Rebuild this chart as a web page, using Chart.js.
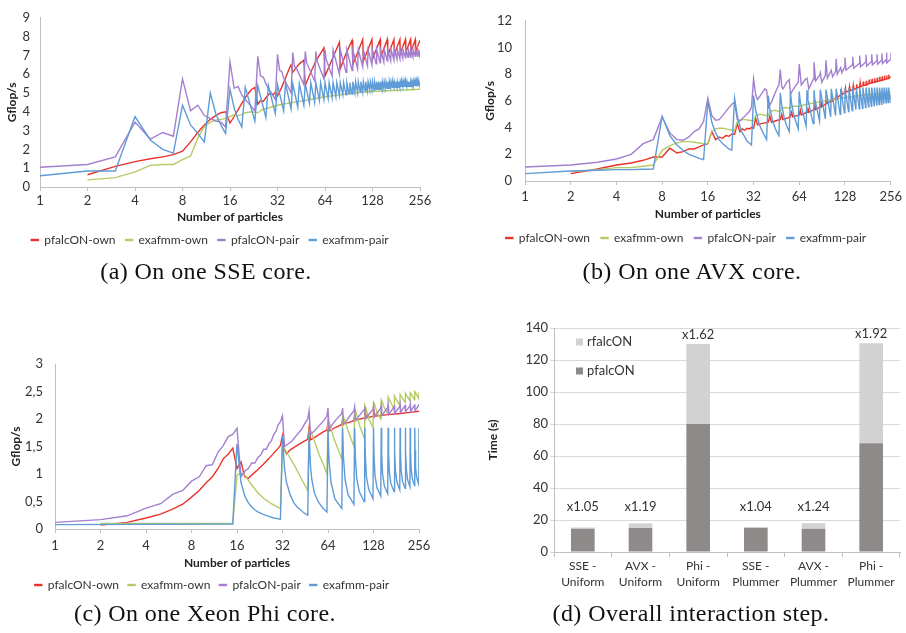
<!DOCTYPE html>
<html>
<head>
<meta charset="utf-8">
<script src="https://cdn.jsdelivr.net/npm/chart.js@4.4.1/dist/chart.umd.min.js"></script>
<style>
  body { margin: 0; background: #fff; }
  #page { position: relative; width: 906px; height: 633px; overflow: hidden; background: #fff; }
  .box { position: absolute; }
  .cap { position: absolute; font-family: 'Liberation Serif', serif; font-size: 24px; letter-spacing: 0.4px; color: #111;
         transform: translate(-50%, -50%); white-space: nowrap; }
</style>
</head>
<body>
<div id="page">
  <div class="box" style="left:0;top:0"><canvas id="sse" width="453" height="262"></canvas></div>
  <div class="box" style="left:453px;top:0"><canvas id="avx" width="453" height="262"></canvas></div>
  <div class="box" style="left:0;top:310px"><canvas id="phi" width="453" height="296"></canvas></div>
  <div class="box" style="left:453px;top:310px"><canvas id="total" width="453" height="290"></canvas></div>
  <div class="cap" style="left:206px;top:271px">(a) On one SSE core.</div>
  <div class="cap" style="left:692px;top:271px">(b) On one AVX core.</div>
  <div class="cap" style="left:205px;top:613px">(c) On one Xeon Phi core.</div>
  <div class="cap" style="left:691px;top:613px">(d) Overall interaction step.</div>
</div>
<script>
// axes
const particleTicks = [1, 2, 4, 8, 16, 32, 64, 128, 256];
const sseYTicks = ['0', '1', '2', '3', '4', '5', '6', '7', '8', '9'];
const avxYTicks = ['0', '2', '4', '6', '8', '10', '12'];
const phiYTicks = ['0', '0,5', '1', '1,5', '2', '2,5', '3'];

const seriesNames = ['pfalcON-own', 'exafmm-own', 'pfalcON-pair', 'exafmm-pair'];
const lineColors = ['#e8332a', '#b5cc66', '#a47fd0', '#5f9bd6'];

// (a) one SSE core: [particles, Gflop/s]
const ssePfalconOwn = [[2,0.65],[3,1.1],[4,1.35],[5,1.5],[6,1.6],[7,1.72],[8,1.9],[9,2.4],[10,2.9],[11,3.3],[12,3.6],[13,3.8],[14,3.95],[15,4.0],[16,3.4],[17,3.75],[18,4.1],[19,4.45],[20,4.75],[21,5.0],[22,5.2],[23,5.3],[24,4.4],[25,4.6],[26,4.55],[27,4.75],[28,4.9],[29,5.0],[30,4.9],[31,5.05],[32,4.85],[34,5.3],[36,5.8],[38,6.3],[39,6.5],[40,6.1],[42,6.35],[44,6.55],[47,6.75],[48,5.4],[52,6.1],[56,6.7],[63,7.4],[64,5.9],[72,6.9],[79,7.7],[80,6.3],[88,7.2],[95,7.8],[96,6.5],[111,7.85],[112,6.7],[127,7.85],[128,6.8],[143,7.85],[144,6.9],[159,7.85],[160,7.0],[175,7.85],[176,7.05],[191,7.85],[192,7.1],[207,7.85],[208,7.15],[223,7.85],[224,7.2],[239,7.85],[240,7.2],[256,7.8]];
const sseExafmmOwn = [[2,0.38],[3,0.5],[4,0.8],[5,1.15],[6,1.2],[7,1.2],[8,1.45],[9,1.65],[10,2.6],[11,3.2],[12,3.45],[13,3.55],[14,3.6],[15,3.65],[16,3.75],[17,3.85],[18,3.8],[19,3.85],[20,3.95],[22,4.0],[24,3.95],[26,4.15],[28,4.2],[32,4.35],[40,4.5],[48,4.6],[64,4.8],[80,4.9],[96,5.0],[128,5.08],[160,5.12],[192,5.15],[256,5.2]];
const ssePfalconPair = [[1,1.05],[2,1.2],[3,1.6],[4,3.45],[5,2.55],[6,2.9],[7,2.7],[8,5.75],[9,4.05],[10,4.35],[11,3.8],[12,3.65],[13,3.5],[14,3.45],[15,3.2],[16,6.65],[17,5.25],[18,5.35],[19,4.9],[20,4.65],[21,4.45],[22,4.25],[23,4.05],[24,6.95],[25,5.9],[26,5.85],[27,5.5],[28,5.25],[29,5.05],[30,4.85],[31,4.65],[32,7.05],[33,6.2],[34,6.15],[35,5.8],[37,5.4],[39,5.0],[40,7.15],[41,6.4],[42,6.35],[47,5.45],[48,7.2],[49,6.6],[55,5.65],[56,7.2],[57,6.7],[63,5.75],[64,7.3],[65,6.8],[71,5.9],[72,7.3],[79,6.0],[80,7.3],[87,6.1],[88,7.3],[95,6.2],[96,7.3],[103,6.3],[104,7.3],[111,6.4],[112,7.3],[119,6.45],[120,7.3],[127,6.5],[128,7.3],[135,6.55],[136,7.3],[143,6.6],[144,7.3],[151,6.65],[152,7.3],[159,6.7],[160,7.3],[167,6.72],[168,7.3],[175,6.75],[176,7.3],[183,6.8],[184,7.3],[191,6.82],[192,7.3],[199,6.85],[200,7.3],[207,6.87],[208,7.3],[215,6.9],[216,7.3],[223,6.9],[224,7.3],[231,6.92],[232,7.3],[239,6.95],[240,7.3],[247,6.95],[248,7.3],[255,6.95],[256,7.3]];
const sseExafmmPair = [[1,0.6],[2,0.85],[3,0.85],[4,3.75],[5,2.5],[6,2.0],[7,1.8],[8,4.35],[9,3.3],[10,2.85],[11,2.4],[12,5.0],[13,3.9],[14,3.3],[15,2.85],[16,5.2],[17,4.2],[18,3.6],[19,3.2],[20,5.3],[23,3.5],[24,5.4],[27,3.7],[28,5.4],[31,3.9],[32,5.45],[35,4.05],[36,5.5],[39,4.15],[40,5.5],[43,4.25],[44,5.5],[47,4.35],[48,5.5],[51,4.45],[52,5.55],[55,4.5],[56,5.55],[59,4.6],[60,5.55],[63,4.65],[64,5.55],[67,4.7],[68,5.55],[71,4.75],[72,5.55],[75,4.8],[76,5.55],[79,4.85],[80,5.55],[83,4.9],[84,5.55],[87,4.9],[88,5.55],[91,4.95],[92,5.55],[95,4.95],[96,5.6],[99,5.0],[100,5.6],[103,5.0],[104,5.6],[107,5.05],[108,5.6],[111,5.05],[112,5.6],[115,5.1],[116,5.6],[119,5.1],[120,5.6],[123,5.15],[124,5.6],[127,5.15],[128,5.6],[131,5.15],[132,5.6],[135,5.2],[136,5.6],[139,5.2],[140,5.6],[143,5.2],[144,5.6],[147,5.2],[148,5.6],[151,5.25],[152,5.6],[155,5.25],[156,5.6],[159,5.25],[160,5.6],[163,5.25],[164,5.6],[167,5.3],[168,5.6],[171,5.3],[172,5.6],[175,5.3],[176,5.6],[179,5.3],[180,5.6],[183,5.3],[184,5.6],[187,5.3],[188,5.6],[191,5.3],[192,5.6],[195,5.35],[196,5.6],[199,5.35],[200,5.6],[203,5.35],[204,5.6],[207,5.35],[208,5.6],[211,5.35],[212,5.6],[215,5.35],[216,5.6],[219,5.35],[220,5.6],[223,5.35],[224,5.6],[227,5.4],[228,5.6],[231,5.4],[232,5.6],[235,5.4],[236,5.6],[239,5.4],[240,5.6],[243,5.4],[244,5.6],[247,5.4],[248,5.6],[251,5.4],[252,5.6],[255,5.4],[256,5.6]];

// (b) one AVX core
const avxPfalconOwn = [[2,0.55],[3,0.9],[4,1.2],[5,1.35],[6,1.55],[7,1.8],[8,1.8],[9,2.45],[10,2.1],[11,2.2],[12,2.4],[13,2.4],[14,2.55],[15,2.7],[16,2.8],[17,3.7],[18,3.1],[19,3.3],[20,3.2],[21,3.4],[22,3.35],[23,3.5],[24,3.5],[25,4.3],[26,3.7],[27,3.9],[28,3.8],[29,3.95],[30,3.9],[31,4.0],[32,3.95],[33,4.7],[34,4.2],[36,4.3],[38,4.35],[40,4.4],[41,4.85],[42,4.4],[46,4.55],[48,4.6],[49,5.0],[50,4.6],[56,4.8],[57,5.15],[58,4.8],[64,4.95],[65,5.3],[66,4.95],[72,5.15],[73,5.5],[74,5.15],[80,5.35],[81,5.7],[82,5.35],[88,5.55],[89,5.9],[90,5.55],[96,5.8],[97,6.1],[98,5.8],[104,6.0],[105,6.3],[106,6.0],[112,6.25],[113,6.55],[114,6.25],[120,6.45],[121,6.75],[122,6.45],[128,6.65],[129,6.95],[130,6.65],[136,6.75],[137,7.05],[138,6.75],[144,6.85],[145,7.15],[146,6.85],[152,6.95],[153,7.25],[154,6.95],[160,7.05],[161,7.35],[162,7.05],[168,7.15],[169,7.45],[170,7.15],[176,7.2],[177,7.5],[178,7.2],[184,7.3],[185,7.6],[186,7.3],[192,7.35],[193,7.65],[194,7.35],[200,7.4],[201,7.7],[202,7.4],[208,7.45],[209,7.75],[210,7.45],[216,7.5],[217,7.8],[218,7.5],[224,7.55],[225,7.85],[226,7.55],[232,7.6],[233,7.9],[234,7.6],[240,7.65],[241,7.9],[242,7.65],[248,7.7],[249,7.95],[250,7.7],[256,7.8]];
const avxExafmmOwn = [[2,0.7],[3,0.85],[4,1.0],[5,1.0],[6,1.1],[7,1.2],[8,2.3],[9,2.65],[10,2.85],[11,2.95],[12,2.95],[13,2.9],[14,2.85],[15,2.8],[16,2.8],[17,3.7],[18,3.9],[19,3.95],[20,3.95],[21,3.9],[22,3.85],[23,3.8],[24,3.8],[25,4.45],[26,4.55],[27,4.6],[28,4.6],[30,4.55],[32,4.5],[33,4.9],[35,5.0],[37,4.95],[40,4.85],[41,5.2],[44,5.3],[48,5.2],[49,5.45],[52,5.5],[56,5.45],[57,5.6],[64,5.6],[72,5.75],[80,5.85],[88,5.95],[96,6.0],[112,6.15],[128,6.25],[160,6.4],[192,6.5],[224,6.6],[256,6.65]];
const avxPfalconPair = [[1,1.05],[2,1.2],[3,1.4],[4,1.65],[5,2.0],[6,2.8],[7,3.1],[8,4.8],[9,3.6],[10,3.1],[11,3.05],[12,3.3],[13,3.7],[14,3.9],[15,4.45],[16,6.2],[17,4.9],[18,4.55],[19,4.6],[20,4.9],[21,5.2],[22,5.5],[23,5.75],[24,5.9],[25,4.6],[26,4.5],[28,4.85],[30,5.2],[31,5.5],[32,7.65],[33,6.5],[34,6.1],[36,6.5],[38,6.9],[39,6.8],[40,5.5],[42,5.9],[44,6.5],[46,7.0],[47,7.2],[48,8.35],[49,7.1],[50,6.9],[53,7.4],[55,7.6],[56,6.5],[58,6.8],[62,7.3],[63,7.4],[64,8.75],[66,7.2],[70,7.6],[72,7.7],[74,6.9],[79,7.6],[80,8.9],[82,7.5],[87,7.9],[88,8.1],[90,7.4],[95,7.9],[96,9.05],[98,7.7],[104,8.3],[106,7.8],[111,8.2],[112,9.15],[114,8.0],[120,8.5],[122,8.1],[127,8.5],[128,9.25],[130,8.3],[143,8.7],[144,9.3],[146,8.45],[159,8.8],[160,9.4],[162,8.55],[175,8.9],[176,9.45],[178,8.6],[191,8.95],[192,9.5],[194,8.7],[207,9.0],[208,9.5],[210,8.75],[223,9.05],[224,9.55],[226,8.8],[239,9.1],[240,9.6],[242,8.85],[255,9.1],[256,9.6]];
const avxExafmmPair = [[1,0.55],[2,0.75],[3,0.8],[4,0.85],[5,0.85],[6,0.88],[7,0.9],[8,4.85],[9,3.4],[10,2.7],[11,2.3],[12,2.0],[13,1.85],[14,1.7],[15,1.6],[16,5.95],[17,4.4],[18,3.6],[19,3.1],[20,2.8],[21,2.6],[22,2.4],[23,2.3],[24,6.2],[25,4.9],[26,4.1],[27,3.6],[28,3.3],[29,3.0],[30,2.85],[31,2.7],[32,6.4],[33,5.3],[35,4.2],[37,3.6],[39,3.1],[40,6.4],[41,5.4],[43,4.4],[45,3.8],[47,3.4],[48,6.6],[49,5.7],[51,4.7],[53,4.1],[55,3.7],[56,6.6],[57,5.8],[59,4.9],[63,3.9],[64,6.7],[65,5.9],[71,4.1],[72,6.8],[73,6.1],[79,4.3],[80,6.8],[81,6.15],[87,4.5],[88,6.85],[95,4.65],[96,6.85],[103,4.8],[104,6.9],[111,4.9],[112,6.9],[119,5.0],[120,6.9],[127,5.1],[128,6.95],[135,5.2],[136,6.95],[143,5.25],[144,6.95],[151,5.35],[152,6.95],[159,5.4],[160,7.0],[167,5.45],[168,7.0],[175,5.5],[176,7.0],[183,5.55],[184,7.0],[191,5.6],[192,7.0],[199,5.65],[200,7.0],[207,5.7],[208,7.0],[215,5.72],[216,7.0],[223,5.75],[224,7.0],[231,5.8],[232,7.0],[239,5.85],[240,7.0],[247,5.88],[248,7.0],[255,5.9],[256,6.5]];

// (c) one Xeon Phi core
const phiPfalconOwn = [[2,0.07],[3,0.12],[4,0.2],[5,0.27],[6,0.36],[7,0.45],[8,0.58],[9,0.7],[10,0.84],[11,0.95],[12,1.1],[13,1.28],[14,1.36],[15,1.47],[16,1.1],[17,1.22],[18,0.95],[19,0.92],[20,0.98],[22,1.08],[24,1.18],[26,1.28],[28,1.38],[30,1.47],[31,1.52],[32,1.7],[33,1.45],[34,1.37],[36,1.44],[40,1.52],[44,1.59],[47,1.63],[48,1.85],[49,1.62],[52,1.66],[56,1.72],[60,1.77],[63,1.8],[64,1.95],[65,1.78],[72,1.85],[79,1.9],[80,2.02],[81,1.91],[88,1.94],[95,1.97],[96,2.07],[97,1.98],[112,2.02],[113,2.1],[114,2.02],[128,2.05],[129,2.12],[130,2.05],[160,2.08],[192,2.1],[224,2.12],[256,2.14]];
const phiExafmmOwn = [[2,0.1],[15,0.1],[16,0.98],[17,1.02],[18,0.98],[20,0.8],[22,0.66],[24,0.56],[27,0.46],[31,0.37],[32,1.53],[34,1.4],[38,1.18],[42,0.95],[47,0.7],[48,1.8],[49,1.8],[52,1.6],[56,1.35],[60,1.15],[63,1.0],[64,1.97],[66,1.9],[70,1.65],[75,1.43],[79,1.27],[80,2.06],[82,2.0],[87,1.78],[95,1.5],[96,2.2],[98,2.13],[103,1.9],[111,1.66],[112,2.25],[114,2.2],[119,2.0],[127,1.85],[128,2.3],[130,2.27],[135,2.12],[143,2.0],[144,2.35],[146,2.32],[151,2.2],[159,2.1],[160,2.4],[163,2.35],[175,2.18],[176,2.42],[179,2.38],[191,2.25],[192,2.45],[195,2.42],[207,2.3],[208,2.47],[211,2.44],[223,2.33],[224,2.48],[227,2.46],[239,2.35],[240,2.5],[243,2.48],[255,2.37],[256,2.5]];
const phiPfalconPair = [[1,0.12],[2,0.17],[3,0.24],[4,0.38],[5,0.46],[6,0.63],[7,0.7],[8,0.87],[9,0.95],[10,1.15],[11,1.17],[12,1.4],[13,1.52],[14,1.68],[15,1.72],[16,1.83],[17,0.95],[18,1.05],[19,1.1],[20,1.2],[21,1.2],[22,1.3],[23,1.35],[24,1.45],[25,1.45],[26,1.55],[27,1.6],[28,1.72],[29,1.78],[30,1.9],[31,1.95],[32,2.06],[33,1.5],[35,1.55],[37,1.6],[39,1.68],[41,1.75],[43,1.82],[45,1.92],[47,2.0],[48,2.15],[49,1.72],[52,1.78],[56,1.88],[60,1.97],[63,2.05],[64,2.2],[65,1.82],[72,1.98],[79,2.1],[80,2.2],[81,1.9],[95,2.15],[96,2.22],[97,1.97],[111,2.17],[112,2.22],[113,2.0],[127,2.18],[128,2.23],[129,2.03],[143,2.2],[144,2.24],[145,2.06],[159,2.21],[160,2.25],[161,2.08],[175,2.22],[176,2.25],[177,2.1],[191,2.23],[192,2.26],[193,2.12],[207,2.24],[208,2.26],[209,2.13],[223,2.24],[224,2.27],[225,2.14],[239,2.25],[240,2.27],[241,2.15],[255,2.25],[256,2.27]];
const phiExafmmPair = [[1,0.08],[15,0.09],[16,1.55],[17,0.85],[18,0.6],[19,0.48],[20,0.4],[21,0.35],[22,0.31],[24,0.26],[26,0.23],[28,0.2],[31,0.18],[32,1.7],[33,1.1],[34,0.85],[36,0.62],[38,0.48],[40,0.4],[42,0.35],[44,0.3],[47,0.25],[48,1.75],[49,1.15],[50,0.9],[52,0.66],[55,0.5],[59,0.38],[63,0.31],[64,1.82],[65,1.25],[67,0.85],[71,0.55],[79,0.37],[80,1.83],[81,1.3],[83,0.9],[87,0.62],[95,0.45],[96,1.83],[97,1.32],[99,0.93],[103,0.68],[111,0.5],[112,1.84],[113,1.33],[115,0.95],[119,0.72],[127,0.55],[128,1.84],[129,1.34],[131,0.97],[135,0.75],[143,0.6],[144,1.84],[145,1.36],[147,1.0],[151,0.78],[159,0.64],[160,1.84],[161,1.38],[163,1.03],[167,0.82],[175,0.68],[176,1.84],[177,1.4],[179,1.05],[183,0.85],[191,0.71],[192,1.84],[193,1.4],[195,1.07],[199,0.87],[207,0.74],[208,1.84],[209,1.42],[211,1.09],[215,0.9],[223,0.77],[224,1.84],[225,1.42],[227,1.1],[231,0.92],[239,0.79],[240,1.84],[241,1.43],[243,1.12],[247,0.94],[255,0.81],[256,1.84]];

// (d) overall interaction step, time in seconds
const runLabels = [['SSE -', 'Uniform'], ['AVX -', 'Uniform'], ['Phi -', 'Uniform'],
                   ['SSE -', 'Plummer'], ['AVX -', 'Plummer'], ['Phi -', 'Plummer']];
const pfalconTime = [14.5, 15, 80, 15, 14.5, 68];
const rfalconTime = [15.3, 17.9, 130, 15.7, 18, 130.5];
const speedupLabels = ['x1.05', 'x1.19', 'x1.62', 'x1.04', 'x1.24', 'x1.92'];

Chart.defaults.font.family = 'Lato, "Open Sans", sans-serif';
Chart.defaults.color = '#333';

// grafico de linhas (a), (b), (c)
function lineChart(id, series, yMax, yStep, yLabels, lay) {
  new Chart(document.getElementById(id), {
    type: 'line',
    data: {
      datasets: series.map((pts, i) => ({
        label: seriesNames[i],
        data: pts.map(p => ({ x: p[0], y: p[1] })),
        borderColor: lineColors[i],
        backgroundColor: lineColors[i],
        borderWidth: 1.4,
        pointRadius: 0,
        tension: 0,
        order: 3 - i
      }))
    },
    options: {
      responsive: false,
      animation: false,
      layout: { padding: lay.pad },
      plugins: {
        tooltip: { enabled: false },
        legend: {
          position: 'bottom',
          labels: { boxWidth: 7, boxHeight: 1, padding: lay.legendPad, font: { size: 12 }, color: '#333',
                    sort: (a, b) => a.datasetIndex - b.datasetIndex }
        }
      },
      scales: {
        x: {
          type: 'logarithmic', min: 1, max: 256,
          afterBuildTicks: s => { s.ticks = particleTicks.map(v => ({ value: v })); },
          afterFit: s => { s.height = lay.xHeight; },
          ticks: { callback: v => String(v), autoSkip: false, maxRotation: 0, padding: lay.xTickPad, font: { size: 13 } },
          grid: { drawOnChartArea: false, drawTicks: true, tickLength: 4, color: '#c0c0c0' },
          border: { color: '#c0c0c0' },
          title: { display: true, text: 'Number of particles', font: { size: 12, weight: 'bold' }, padding: 0, color: '#222' }
        },
        y: {
          min: 0, max: yMax,
          afterFit: s => { s.width = lay.yWidth; },
          ticks: { stepSize: yStep, callback: (v, i) => yLabels[i], padding: lay.yTickPad, font: { size: 13 } },
          grid: { display: false, drawTicks: false },
          border: { display: true, color: '#c0c0c0' },
          title: { display: true, text: 'Gflop/s', font: { size: 12, weight: 'bold' }, padding: { top: lay.yTitlePad, bottom: 0 }, color: '#222' }
        }
      }
    }
  });
}

lineChart('sse', [ssePfalconOwn, sseExafmmOwn, ssePfalconPair, sseExafmmPair], 9, 1, sseYTicks,
  { pad: { left: 0, right: 33, top: 14, bottom: 6 }, yWidth: 40, yTickPad: 10, yTitlePad: 5,
    xHeight: 37, xTickPad: 2, legendPad: 10 });
lineChart('avx', [avxPfalconOwn, avxExafmmOwn, avxPfalconPair, avxExafmmPair], 12, 2, avxYTicks,
  { pad: { left: 26, right: 13, top: 16, bottom: 8 }, yWidth: 46, yTickPad: 13, yTitlePad: 4,
    xHeight: 40, xTickPad: 4, legendPad: 11 });
lineChart('phi', [phiPfalconOwn, phiExafmmOwn, phiPfalconPair, phiExafmmPair], 3, 0.5, phiYTicks,
  { pad: { left: 5, right: 34, top: 54, bottom: 5 }, yWidth: 50, yTickPad: 12, yTitlePad: 4,
    xHeight: 41, xTickPad: 5, legendPad: 9 });

// rotulos x1.xx e legenda dentro do grafico (d)
const totalExtras = {
  id: 'totalExtras',
  afterDatasetsDraw(chart) {
    const ctx = chart.ctx;
    const y = chart.scales.y;
    const top = chart.getDatasetMeta(1).data;
    ctx.save();
    ctx.font = '13px Lato';
    ctx.fillStyle = '#333';
    ctx.textAlign = 'center';
    ctx.textBaseline = 'middle';
    top.forEach((bar, i) => {
      const ty = Math.min(bar.y - 9, y.getPixelForValue(28));
      ctx.fillText(speedupLabels[i], bar.x, ty);
    });
    const a = chart.chartArea;
    const items = [['rfalcON', '#d2d2d2', 14], ['pfalcON', '#8e8a8a', 43]];
    ctx.textAlign = 'left';
    items.forEach(([txt, col, dy]) => {
      ctx.fillStyle = col;
      ctx.fillRect(a.left + 22, a.top + dy - 3.5, 7, 7);
      ctx.fillStyle = '#333';
      ctx.fillText(txt, a.left + 33, a.top + dy);
    });
    ctx.restore();
  }
};

new Chart(document.getElementById('total'), {
  type: 'bar',
  data: {
    labels: runLabels,
    datasets: [
      { label: 'pfalcON', data: pfalconTime, backgroundColor: '#8e8a8a', barPercentage: 0.41, categoryPercentage: 1 },
      { label: 'rfalcON', data: rfalconTime.map((t, i) => t - pfalconTime[i]), backgroundColor: '#d2d2d2', barPercentage: 0.41, categoryPercentage: 1 }
    ]
  },
  options: {
    responsive: false,
    animation: false,
    layout: { padding: { left: 28, right: 6, top: 18, bottom: 8 } },
    plugins: { legend: { display: false }, tooltip: { enabled: false } },
    scales: {
      x: {
        stacked: true,
        afterFit: s => { s.height = 40; },
        ticks: { padding: 1, font: { size: 12, lineHeight: 1.333 }, maxRotation: 0, autoSkip: false },
        grid: { drawOnChartArea: false, drawTicks: true, tickLength: 5, color: '#c0c0c0', offset: true },
        border: { color: '#c0c0c0' }
      },
      y: {
        stacked: true, min: 0, max: 140,
        afterFit: s => { s.width = 73; },
        ticks: { stepSize: 20, padding: 2, font: { size: 13 } },
        grid: { color: '#d9d9d9', drawTicks: true, tickLength: 4 },
        border: { color: '#c0c0c0' },
        title: { display: true, text: 'Time (s)', font: { size: 12, weight: 'bold' }, padding: { top: 5, bottom: 0 }, color: '#222' }
      }
    }
  },
  plugins: [totalExtras]
});
</script>
</body>
</html>
